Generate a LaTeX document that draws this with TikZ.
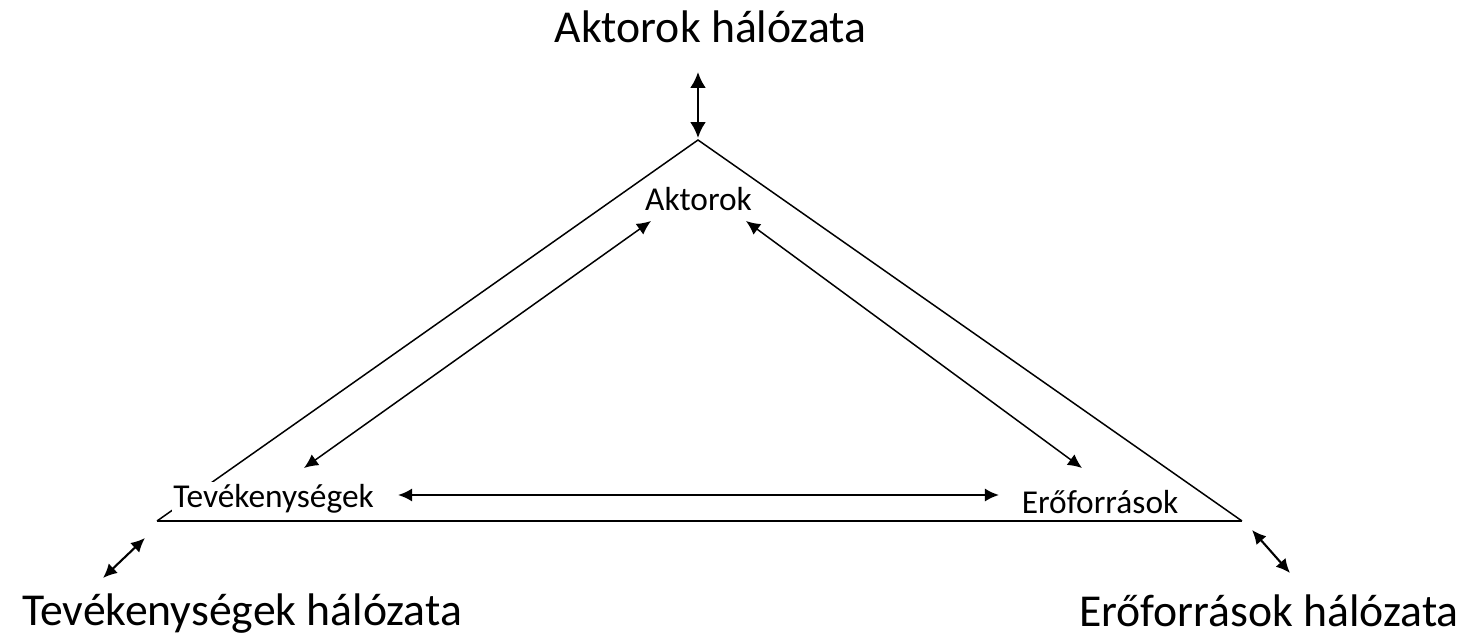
\documentclass[tikz,border=0pt]{standalone}
\usepackage{fontspec}
\setmainfont{Carlito}
\usetikzlibrary{arrows.meta}
\begin{document}
\begin{tikzpicture}[x=.02cm,y=-.02cm,
		kis/.style={font=\fontsize{19}{22}\selectfont,fill=white,inner sep=1pt,anchor=base},
		nagy/.style={font=\fontsize{26}{30}\selectfont,inner sep=0pt,anchor=base},
		nyil/.style={{Latex[length=8pt,width=7.5pt]}-{Latex[length=8pt,width=7.5pt]},line width=.85pt},
		vnyil/.style={{Latex[length=9pt,width=9pt]}-{Latex[length=9pt,width=9pt]},line width=1.5pt}]
			\useasboundingbox (0,0) rectangle (1470,635);
			\path 
			(698,140) coordinate (A) (157,521) coordinate (T) (1242,521) coordinate (E)
			(698,72) coordinate (A1) (698,138) coordinate (A2)
			(145,538) coordinate (T1) (103,578) coordinate (T2)
			(1252,530) coordinate (E1) (1290,573) coordinate (E2)
			(304,468) coordinate (P1) (651,221) coordinate (P2)
			(746,221) coordinate (Q1) (1082,468) coordinate (Q2)
			(398,495) coordinate (R1) (999,495) coordinate (R2);
			\draw[line width=.85pt] (T)--(A)--(E);
			\draw[line width=1.7pt] (T)--(E);
			\node[kis] (akt) at (698.5,210) {Aktorok};
			\node[kis] (tev) at (273.5,507) {Tevékenységek};
			\node[kis] (ero) at (1100,513) {Erőforrások};
			\node[nagy] (aktH) at (710.5,43) {Aktorok hálózata};
			\node[nagy] (tevH) at (242,625) {Tevékenységek hálózata};
			\node[nagy] (eroH) at (1269,626) {Erőforrások hálózata};
			\draw[nyil] (P1)--(P2);
			\draw[nyil] (Q1)--(Q2);
			\draw[nyil,line width=1.3pt] (R1)--(R2);
			\draw[vnyil] (A1)--(A2);
			\foreach \x/\y in {T1/T2,E1/E2} \draw[nyil,line width=1.2pt] (\x)--(\y);
		\end{tikzpicture}
\end{document}
